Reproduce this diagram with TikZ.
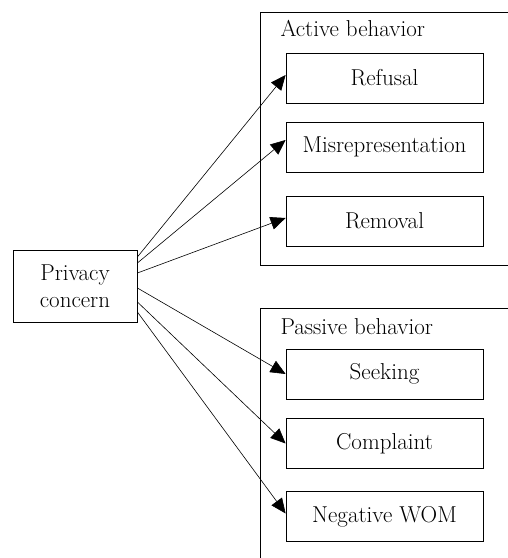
\documentclass[tikz,border=0pt]{standalone}
\usepackage{tikz}
\usetikzlibrary{arrows.meta, positioning}

\tikzset{
    txt/.style={font=\fontsize{23}{27}\selectfont},
    itembox/.style={draw, line width=0.8pt, txt, minimum width=197pt, minimum height=50pt, inner sep=0pt},
    srcbox/.style={draw, line width=0.8pt, txt, align=center, minimum width=124pt, minimum height=72pt, inner sep=0pt},
    grp/.style={line width=0.8pt},
    link/.style={line width=0.6pt, -{Triangle[length=15pt,width=13pt]}}
}

\begin{document}
\begin{tikzpicture}[x=1pt, y=1pt]

    \useasboundingbox (0,0) rectangle (508,558);

    % ACTIVE GROUP
    \draw[grp] (508,546) -- (260,546) -- (260,293) -- (508,293);
    \node[txt, anchor=base west] (actlbl) at (277,521) {Active behavior};

    % PASSIVE GROUP
    \draw[grp] (508,250) -- (260,250) -- (260,0);
    \node[txt, anchor=base west] (paslbl) at (277,223) {Passive behavior};

    % SOURCE
    \node[srcbox] (pc) at (75,272) {Privacy\\concern};

    % ACTIVE ITEMS
    \node[itembox] (refusal)  at (384.5,480) {Refusal};
    \node[itembox] (misrep)   at (384.5,411) {Misrepresentation};
    \node[itembox] (removal)  at (384.5,337) {Removal};

    % PASSIVE ITEMS
    \node[itembox] (seeking)   at (384.5,184) {Seeking};
    \node[itembox] (complaint) at (384.5,114.5) {Complaint};
    \node[itembox] (wom)       at (384.5,41.5) {Negative WOM};

    % LINKS
    \foreach \s/\t/\e in {29/refusal/3, 23/misrep/7, 13/removal/3,
                          -2/seeking/0, -16/complaint/0, -26/wom/3}
        \draw[link] ([yshift=\s pt]pc.east) -- ([yshift=\e pt]\t.west);

\end{tikzpicture}
\end{document}
